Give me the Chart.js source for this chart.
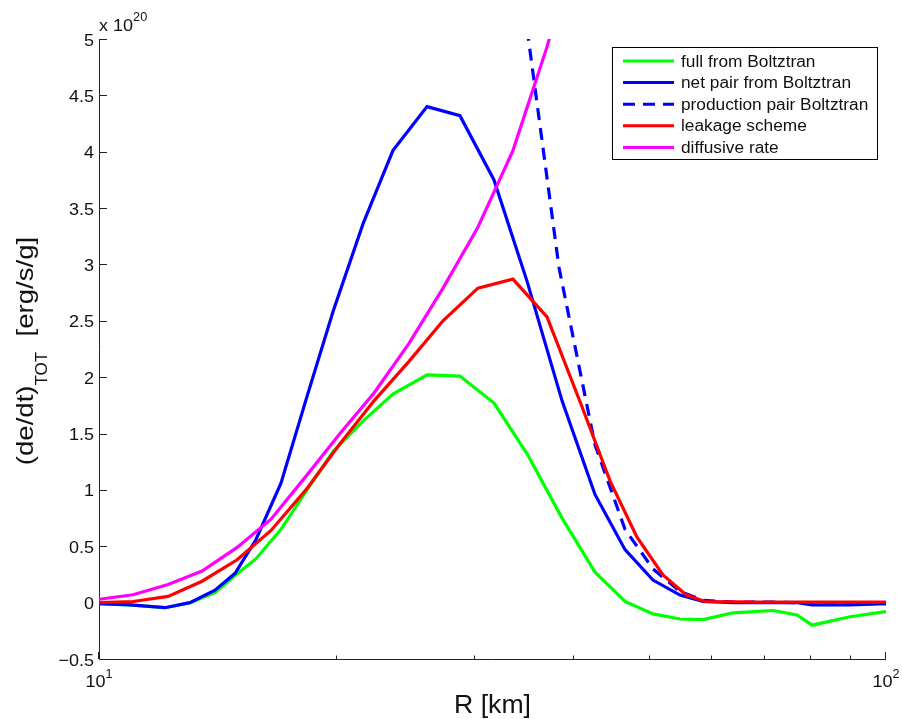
<!DOCTYPE html>
<html>
<head>
<meta charset="utf-8">
<script src="https://cdn.jsdelivr.net/npm/chart.js@4.4.0/dist/chart.umd.min.js"></script>
<style>
  html, body { margin: 0; padding: 0; background: #fff; }
  #wrap { width: 902px; height: 719px; }
</style>
</head>
<body>
<div id="wrap"><canvas id="c" width="902" height="719"></canvas></div>
<script>
// radius [km] and heating rate [1e20 erg/s/g]
const rBoltz = [10.00, 10.95, 12.13, 13.05, 14.04, 14.89, 15.83, 17.03, 18.38, 19.83, 21.65, 23.63, 26.11, 28.75,
  31.76, 34.99, 38.76, 42.68, 46.60, 50.57, 54.73, 58.54, 63.91, 71.84, 77.09, 80.54, 90.03, 100.0];
const fullBoltz = [-0.01, -0.02, -0.045, 0.0, 0.09, 0.24, 0.39, 0.65, 1.0, 1.34, 1.61, 1.85, 2.02, 2.01,
  1.77, 1.32, 0.75, 0.27, 0.01, -0.10, -0.145, -0.15, -0.09, -0.07, -0.11, -0.20, -0.125, -0.08];
const netPair = [-0.01, -0.02, -0.045, 0.0, 0.11, 0.26, 0.56, 1.06, 1.83, 2.58, 3.36, 4.01, 4.40, 4.32,
  3.75, 2.85, 1.79, 0.96, 0.47, 0.20, 0.067, 0.01, 0.0, 0.0, 0.0, -0.02, -0.02, -0.01];

const rProd = [34.99, 38.42, 42.68, 46.60, 50.57, 54.73, 58.54, 63.91, 71.84, 77.09, 80.54, 90.03, 100.0];
const prodPair = [5.09, 2.97, 1.40, 0.65, 0.30, 0.10, 0.02, 0.005, 0.005, 0.0, -0.01, -0.01, -0.01];

const rLeak = [10.00, 11.05, 12.24, 13.52, 14.98, 16.54, 18.32, 20.24, 22.36, 24.77, 27.36, 30.30, 33.57,
  37.09, 40.97, 44.60, 48.26, 52.07, 55.70, 58.88, 69.18, 100.0];
const leakage = [0.0, 0.01, 0.055, 0.19, 0.38, 0.64, 1.0, 1.41, 1.79, 2.14, 2.50, 2.79, 2.87,
  2.535, 1.76, 1.08, 0.58, 0.245, 0.07, 0.01, 0.005, 0.005];

const rDiff = [10.00, 11.05, 12.24, 13.52, 14.98, 16.54, 18.32, 20.24, 22.36, 24.77, 27.36, 30.30, 33.57, 37.09, 40.97];
const diffusive = [0.03, 0.07, 0.16, 0.28, 0.49, 0.74, 1.12, 1.50, 1.86, 2.30, 2.79, 3.33, 4.01, 4.93, 6.0];

const seriesNames = ['full from Boltztran', 'net pair from Boltztran', 'production pair Boltztran',
  'leakage scheme', 'diffusive rate'];

const yTicks = [-0.5, 0, 0.5, 1, 1.5, 2, 2.5, 3, 3.5, 4, 4.5, 5];
const yTickLabels = ['\u22120.5', '0', '0.5', '1', '1.5', '2', '2.5', '3', '3.5', '4', '4.5', '5'];
const xMajor = [10, 100];
const xMajorExp = ['1', '2'];
const xMinor = [20, 30, 40, 50, 60, 70, 80, 90];

const FONT = '"Liberation Sans", Arial, Helvetica, sans-serif';

function pts(r, v) {
  return r.map((x, i) => ({ x: x, y: v[i] }));
}

// text with a small horizontal stretch, the original glyphs are a bit wide
function txt(ctx, s, x, y, size, sx, align) {
  ctx.save();
  ctx.font = size + 'px ' + FONT;
  ctx.textAlign = align || 'left';
  ctx.translate(x, y);
  ctx.scale(sx, 1);
  ctx.fillText(s, 0, 0);
  ctx.restore();
}

function width(ctx, s, size, sx) {
  ctx.font = size + 'px ' + FONT;
  return ctx.measureText(s).width * sx;
}

const axesPlugin = {
  id: 'axes',
  beforeDatasetsDraw(chart) {
    const ctx = chart.ctx;
    const xs = chart.scales.x, ys = chart.scales.y;
    const a = chart.chartArea;
    ctx.save();
    ctx.strokeStyle = '#222';
    ctx.lineWidth = 1;
    ctx.beginPath();
    ctx.moveTo(99.5, a.top);
    ctx.lineTo(99.5, a.bottom + 0.5);
    ctx.lineTo(a.right, a.bottom + 0.5);
    ctx.stroke();

    // y ticks
    ctx.beginPath();
    yTicks.forEach(v => {
      const y = Math.round(ys.getPixelForValue(v)) + 0.5;
      ctx.moveTo(99.5, y);
      ctx.lineTo(107, y);
    });
    // x ticks
    xMajor.forEach(v => {
      const x = Math.round(xs.getPixelForValue(v)) - 0.5;
      ctx.moveTo(x, a.bottom);
      ctx.lineTo(x, a.bottom - 7);
    });
    xMinor.forEach(v => {
      const x = Math.round(xs.getPixelForValue(v)) + 0.5;
      ctx.moveTo(x, a.bottom);
      ctx.lineTo(x, a.bottom - 3.5);
    });
    ctx.stroke();

    ctx.fillStyle = '#111';
    ctx.textBaseline = 'alphabetic';
    yTicks.forEach((v, i) => {
      const y = ys.getPixelForValue(v);
      txt(ctx, yTickLabels[i], 94, y + 6.5, 17, 1.06, 'right');
    });
    xMajor.forEach((v, i) => {
      const x = xs.getPixelForValue(v);
      const w1 = width(ctx, '10', 17, 1.06);
      const w2 = width(ctx, xMajorExp[i], 12, 1.06);
      const x0 = x - (w1 + w2) / 2;
      txt(ctx, '10', x0, 687, 17, 1.06);
      txt(ctx, xMajorExp[i], x0 + w1, 678, 12, 1.06);
    });

    // exponent above the y axis
    txt(ctx, 'x 10', 99, 31, 17, 1.06);
    txt(ctx, '20', 99 + width(ctx, 'x 10', 17, 1.06), 21, 12, 1.06);

    // axis titles
    txt(ctx, 'R [km]', (a.left + a.right) / 2, 713, 25, 1.066, 'center');

    const p1 = '(de/dt)', sub = 'TOT', p2 = '  [erg/s/g]';
    const w1 = width(ctx, p1, 24, 1.15), w2 = width(ctx, sub, 16, 1.06), w3 = width(ctx, p2, 24, 1.15);
    const total = w1 + w2 + w3;
    ctx.save();
    ctx.translate(33, (a.top + a.bottom) / 2 + 2 + total / 2);
    ctx.rotate(-Math.PI / 2);
    txt(ctx, p1, 0, 0, 24, 1.15);
    txt(ctx, sub, w1, 14, 16, 1.06);
    txt(ctx, p2, w1 + w2, 0, 24, 1.15);
    ctx.restore();
    ctx.restore();
  }
};

const legendPlugin = {
  id: 'boxLegend',
  afterDraw(chart) {
    const ctx = chart.ctx;
    ctx.save();
    ctx.fillStyle = '#fff';
    ctx.fillRect(612.5, 47.5, 265, 112);
    ctx.strokeStyle = '#000';
    ctx.lineWidth = 1;
    ctx.strokeRect(612.5, 47.5, 265, 112);
    chart.data.datasets.forEach((ds, i) => {
      const y = 61 + i * 21.6;
      ctx.strokeStyle = ds.borderColor;
      ctx.lineWidth = 3;
      ctx.setLineDash(ds.borderDash || []);
      ctx.beginPath();
      ctx.moveTo(623, y);
      ctx.lineTo(674, y);
      ctx.stroke();
      ctx.setLineDash([]);
      ctx.fillStyle = '#111';
      txt(ctx, ds.label, 681, y + 5.5, 16, 1.08);
    });
    ctx.restore();
  }
};

const colors = ['#00ff00', '#0000ff', '#0000ff', '#ff0000', '#ff00ff'];
const dataSets = [pts(rBoltz, fullBoltz), pts(rBoltz, netPair), pts(rProd, prodPair),
  pts(rLeak, leakage), pts(rDiff, diffusive)];

new Chart(document.getElementById('c'), {
  type: 'line',
  data: {
    datasets: dataSets.map((d, i) => ({
      label: seriesNames[i],
      data: d,
      borderColor: colors[i],
      borderWidth: 3.2,
      borderDash: i === 2 ? [12, 8] : [],
      pointRadius: 0,
      tension: 0,
      fill: false,
      order: 5 - i
    }))
  },
  options: {
    responsive: false,
    animation: false,
    layout: { padding: { left: 99, right: 16, top: 39, bottom: 60 } },
    scales: {
      x: { type: 'logarithmic', min: 10, max: 100, display: false },
      y: { type: 'linear', min: -0.5, max: 5, display: false }
    },
    plugins: { legend: { display: false }, tooltip: { enabled: false } }
  },
  plugins: [axesPlugin, legendPlugin]
});
</script>
</body>
</html>
